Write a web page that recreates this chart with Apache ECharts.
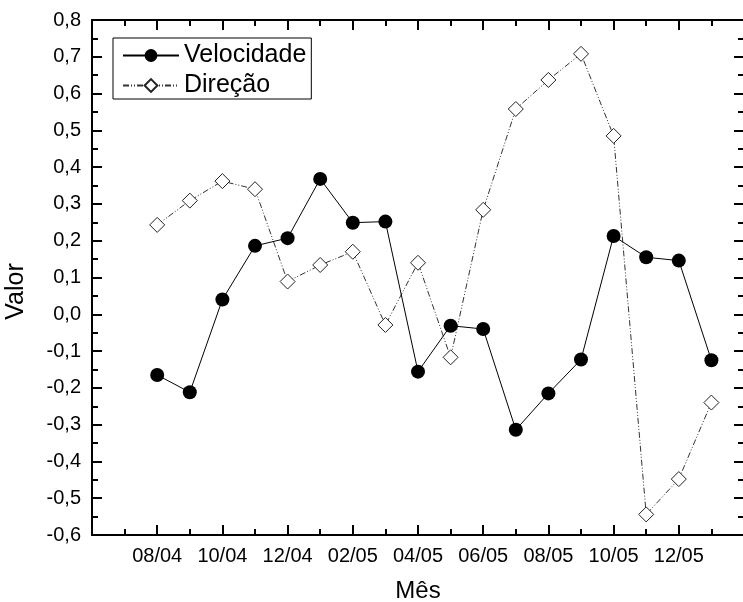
<!DOCTYPE html>
<html>
<head>
<meta charset="utf-8">
<script src="https://cdn.jsdelivr.net/npm/echarts@6/dist/echarts.min.js"></script>
<style>
  html, body { margin: 0; padding: 0; background: #fff; }
  #chart { width: 743px; height: 602px; }
</style>
</head>
<body>
<div id="chart"></div>
<script>
// meses (um ponto por mes, comecando em 08/04)
var meses = ['08/04', '09/04', '10/04', '11/04', '12/04', '01/05', '02/05', '03/05', '04/05',
             '05/05', '06/05', '07/05', '08/05', '09/05', '10/05', '11/05', '12/05', '01/06'];
var velocidade = [-0.165, -0.212, 0.040, 0.186, 0.207, 0.368, 0.249, 0.252, -0.156,
                  -0.031, -0.040, -0.314, -0.215, -0.123, 0.213, 0.155, 0.146, -0.125];
var direcao = [0.243, 0.309, 0.362, 0.340, 0.089, 0.134, 0.170, -0.029, 0.140,
               -0.117, 0.284, 0.558, 0.637, 0.708, 0.485, -0.544, -0.448, -0.240];
var yTicks = { min: -0.6, max: 0.8, step: 0.1 };

var offset = 2; // primeiro mes fica no 2o tick do eixo
function pontos(vals) {
  return vals.map(function (v, i) { return [i + offset, v]; });
}
function rotuloMes(v) {
  var i = Math.round(v) - offset;
  return (i >= 0 && i < meses.length) ? meses[i] : '';
}
function virgula(v) {
  return v.toFixed(1).replace('.', ',');
}

var fonte = 'Liberation Sans, Arial, sans-serif';
var tick = { show: true, inside: true, length: 10, lineStyle: { color: '#000', width: 2 } };
var minor = { show: true, splitNumber: 2, length: 6, lineStyle: { color: '#000', width: 2 } };
var linha = { show: true, onZero: false, lineStyle: { color: '#000', width: 2 } };

var chart = echarts.init(document.getElementById('chart'));
chart.setOption({
  animation: false,
  backgroundColor: '#fff',
  grid: { left: 92, top: 20, width: 652, height: 515, containLabel: false, outerBoundsMode: 'none' },
  legend: {
    left: 113, top: 38,
    orient: 'vertical',
    borderColor: '#000', borderWidth: 1, borderRadius: 0,
    padding: [5, 5, 1, 9],
    itemWidth: 56, itemHeight: 16, itemGap: 5,
    textStyle: { fontFamily: fonte, fontSize: 25, color: '#000' },
    data: ['Velocidade', 'Direção']
  },
  xAxis: [{
    type: 'value', min: 0, max: meses.length + offset, interval: 2,
    position: 'bottom',
    name: 'Mês', nameLocation: 'middle', nameGap: 44,
    nameTextStyle: { fontFamily: fonte, fontSize: 24, color: '#000' },
    axisLine: linha, axisTick: tick, minorTick: minor,
    splitLine: { show: false },
    axisLabel: { formatter: rotuloMes, fontFamily: fonte, fontSize: 20, color: '#000', margin: 11 }
  }, {
    type: 'value', min: 0, max: meses.length + offset, interval: 2,
    position: 'top',
    axisLine: linha, axisTick: tick, minorTick: minor,
    splitLine: { show: false }, axisLabel: { show: false }
  }],
  yAxis: [{
    type: 'value', min: yTicks.min, max: yTicks.max, interval: yTicks.step,
    position: 'left',
    name: 'Valor', nameLocation: 'middle', nameGap: 63, nameRotate: 90,
    nameTextStyle: { fontFamily: fonte, fontSize: 25, color: '#000', padding: [0, 28, 0, 0] },
    axisLine: linha, axisTick: tick, minorTick: minor,
    splitLine: { show: false },
    axisLabel: { formatter: virgula, fontFamily: fonte, fontSize: 20, color: '#000', margin: 11 }
  }, {
    type: 'value', min: yTicks.min, max: yTicks.max, interval: yTicks.step,
    position: 'right',
    axisLine: linha, axisTick: tick, minorTick: minor,
    splitLine: { show: false }, axisLabel: { show: false }
  }],
  series: [{
    name: 'Velocidade',
    type: 'line',
    data: pontos(velocidade),
    symbol: 'circle', symbolSize: 14,
    itemStyle: { color: '#000' },
    lineStyle: { color: '#000', width: 1 },
    z: 3
  }, {
    name: 'Direção',
    type: 'line',
    data: pontos(direcao),
    symbol: 'diamond', symbolSize: 15,
    itemStyle: { color: '#fff', borderColor: '#222', borderWidth: 1 },
    lineStyle: { color: '#333', width: 1, type: [6, 2, 1, 2, 1, 2] },
    z: 2
  }]
});
</script>
</body>
</html>
